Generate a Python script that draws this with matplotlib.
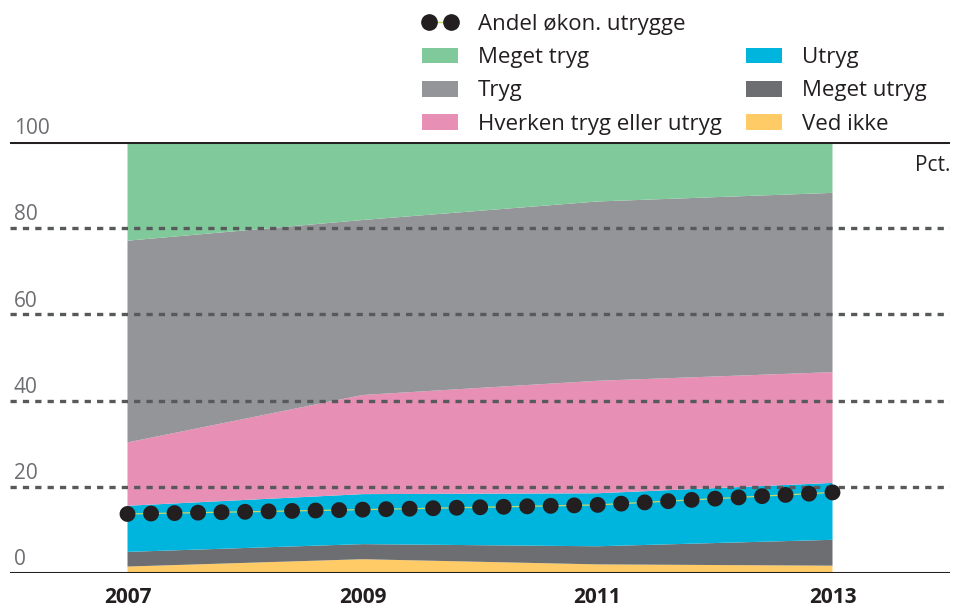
import matplotlib
matplotlib.use("Agg")
import matplotlib.pyplot as plt
from matplotlib.lines import Line2D
from matplotlib.patches import Patch
import matplotlib.transforms as mtransforms

plt.rcParams['font.family'] = ['Open Sans', 'DejaVu Sans']
plt.rcParams['lines.scale_dashes'] = False

# ---- data ----
years = [2007, 2009, 2011, 2013]
ved_ikke = [1.5, 3.2, 2.0, 1.7]
meget_utryg = [3.4, 3.5, 4.2, 6.0]
utryg = [10.7, 11.6, 12.3, 13.2]
hverken = [14.7, 23.0, 26.1, 25.7]
tryg = [46.8, 40.6, 41.6, 41.6]
meget_tryg = [22.9, 18.1, 13.8, 11.8]
andel = [13.7, 14.7, 15.8, 18.7]

series_labels = ['Ved ikke', 'Meget utryg', 'Utryg',
                 'Hverken tryg eller utryg', 'Tryg', 'Meget tryg']
series_colors = ['#fecb67', '#6d6e71', '#00b5dd', '#e78fb5', '#939598', '#80c99a']
line_label = 'Andel økon. utrygge'
ytick_values = [0, 20, 40, 60, 80, 100]
xtick_values = [2007, 2009, 2011, 2013]
unit_label = 'Pct.'

W, H = 954, 608
fig = plt.figure(figsize=(W / 100, H / 100), dpi=100)
ax = fig.add_axes([10 / W, (H - 573) / H, 940 / W, (573 - 142) / H])
ax.set_xlim(2006, 2014)
ax.set_ylim(0, 100)
for s in ax.spines.values():
    s.set_visible(False)

polys = ax.stackplot(years, ved_ikke, meget_utryg, utryg, hverken, tryg, meget_tryg,
                     colors=series_colors, labels=series_labels, lw=0, zorder=1)

# grid lines
for v in ytick_values[1:-1]:
    ax.axhline(v, color='#58595b', lw=2.4, dashes=(4.5, 4.4), zorder=2)
ax.axhline(100, color='#231f20', lw=2.2, zorder=3)
ax.axhline(0, color='#231f20', lw=2.2, zorder=3)

# dotted line
ax.plot(years, andel, color='#c5d66a', lw=0.9, zorder=4)
ax.plot(years, andel, color='#231f20', lw=11.5, dashes=(0.01, 16.92),
        dash_capstyle='round', zorder=5)

# y tick labels above gridlines
trans = mtransforms.blended_transform_factory(ax.transAxes, ax.transData)
off = mtransforms.offset_copy(trans, fig=fig, x=0, y=2, units='points')
for v in ytick_values:
    ax.text(4 / 940, v, str(v), transform=off, ha='left', va='bottom',
            fontsize=15, color='#6d6e71')

ax.set_yticks([])
ax.set_xticks(xtick_values)
ax.set_xticklabels([str(x) for x in xtick_values], fontsize=15, fontweight='bold',
                   color='#231f20')
ax.tick_params(axis='x', length=0, pad=10)

ax.text(1.0, 0.945, unit_label, transform=ax.transAxes, ha='right', va='center',
        fontsize=15, color='#231f20')

# legend
line_handle = Line2D([], [], color='#c5d66a', lw=1, marker='o', markersize=11,
                     markerfacecolor='#231f20', markeredgecolor='#231f20')
blank = Line2D([], [], linestyle='none', marker=None)
ph = {lab: Patch(facecolor=c, edgecolor='none') for lab, c in zip(series_labels, series_colors)}
handles = [line_handle, ph['Meget tryg'], ph['Tryg'], ph['Hverken tryg eller utryg'],
           blank, ph['Utryg'], ph['Meget utryg'], ph['Ved ikke']]
labels = [line_label, 'Meget tryg', 'Tryg', 'Hverken tryg eller utryg',
          '', 'Utryg', 'Meget utryg', 'Ved ikke']
leg = fig.legend(handles, labels, ncol=2, loc='upper left',
                 bbox_to_anchor=(422 / W, 1 - 14 / H), frameon=False,
                 fontsize=16, handlelength=1.62, handleheight=0.72,
                 handletextpad=0.9, columnspacing=1.1, labelspacing=0.55,
                 borderpad=0, borderaxespad=0, numpoints=2)
for t in leg.get_texts():
    t.set_color('#231f20')

fig.savefig('out.png', dpi=100)
